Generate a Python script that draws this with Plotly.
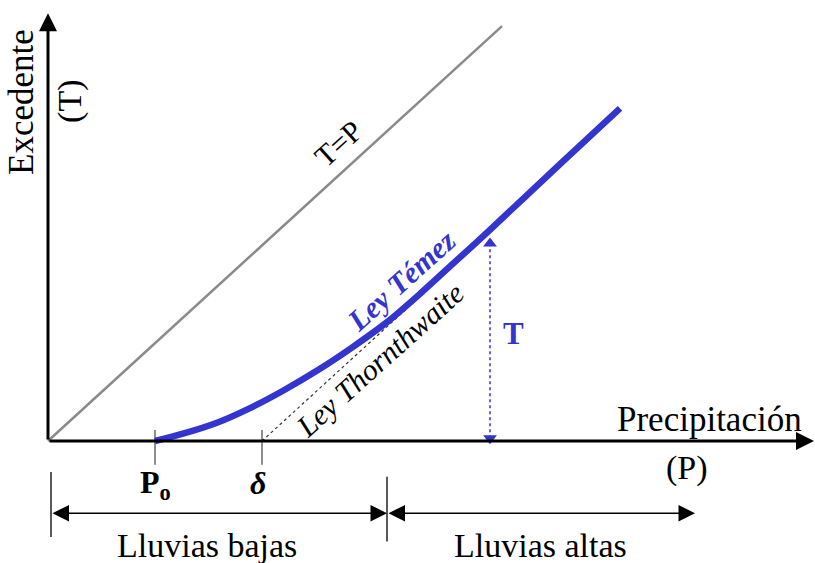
import plotly.graph_objects as go

# characteristic points (P units)
P0 = 10.7
DELTA = 21.4

# T = P line
tp_line_P = [0.0, 45.4]
tp_line_T = [0.0, 45.4]

# Témez law
temez_P = [10.7, 13.5, 16.9, 20.2, 23.5, 27.2, 30.5, 33.9, 37.2, 40.5, 43.9, 51.2, 57.2]
temez_T = [0.0, 0.8, 2.0, 3.6, 5.5, 7.9, 10.3, 13.0, 16.1, 19.4, 22.8, 30.3, 36.4]

# Thornthwaite law (runs under the Témez curve)
thorn_P = [21.4, 37.0]
thorn_T = [0.0, 15.6]

# T arrow
t_arrow_P = [44.2, 44.2]
t_arrow_T = [0.3, 21.6]

# axes extents
X_END = 76.6
Y_END = 46.8

# ranges of rain
rain_split = 33.9
rain_end = 64.7
rain_start = 0.3

BLUE = "#3434cf"
FONT = "Liberation Serif"


def _line(x, y, color, width, dash="solid"):
    return go.Scatter(
        x=x, y=y, mode="lines", hoverinfo="skip",
        line=dict(color=color, width=width, dash=dash),
    )


def _arrow(x, y, ax, ay, width=3, head=2, size=1.0, side="end"):
    return dict(
        x=x, y=y, ax=ax, ay=ay, xref="x", yref="y", axref="x", ayref="y",
        text="", showarrow=True, arrowhead=head, startarrowhead=head,
        arrowsize=size, startarrowsize=size, arrowwidth=width,
        arrowcolor="black", arrowside=side, font=dict(size=10),
    )


def _text(x, y, text, size=32, color="black", angle=0):
    return dict(
        x=x, y=y, xref="x", yref="y", text=text, showarrow=False,
        textangle=angle, font=dict(family=FONT, size=size, color=color),
    )


fig = go.Figure()
fig.add_trace(_line(tp_line_P, tp_line_T, "#8a8a8a", 2.5))
fig.add_trace(_line(thorn_P, thorn_T, "#333333", 1.2, "dot"))
fig.add_trace(_line([P0, P0], [1.2, -2.6], "#444444", 1.2))
fig.add_trace(_line([DELTA, DELTA], [1.2, -2.6], "#444444", 1.2))
fig.add_trace(_line([rain_start, rain_start], [-3.4, -10.5], "#222222", 1.5))
fig.add_trace(_line([rain_split, rain_split], [-3.9, -11.0], "#222222", 1.5))
fig.add_trace(
    go.Scatter(
        x=temez_P, y=temez_T, mode="lines", hoverinfo="skip",
        line=dict(color=BLUE, width=6.5, shape="spline", smoothing=0.8),
    )
)
fig.add_trace(
    go.Scatter(
        x=t_arrow_P, y=t_arrow_T, mode="lines+markers", hoverinfo="skip",
        line=dict(color=BLUE, width=1.5, dash="dot"),
        marker=dict(symbol=["triangle-down", "triangle-up"], size=12, color=BLUE),
    )
)

annotations = [
    _arrow(0, Y_END, 0, 0, width=3, head=2, size=1.2),
    _arrow(X_END, 0, 0, 0, width=3, head=2, size=1.2),
    _arrow(rain_split, -7.9, rain_start, -7.9, width=1.5, head=2, size=2.2, side="end+start"),
    _arrow(rain_end, -7.9, rain_split, -7.9, width=1.5, head=2, size=2.2, side="end+start"),
    _text(-2.6, 37.1, "Excedente", 35, angle=-90),
    _text(2.2, 37.1, "(T)", 34, angle=-90),
    _text(66.1, 2.4, "Precipitación", 35),
    _text(63.9, -3.0, "(P)", 34),
    _text(10.7, -4.8, "<b>P<sub>o</sub></b>", 32),
    _text(21.0, -4.6, "<b><i>δ</i></b>", 32),
    _text(29.0, 32.6, "T=P", 30, angle=-42),
    _text(35.3, 17.6, "<b><i>Ley Témez</i></b>", 30, BLUE, angle=-42),
    _text(33.2, 8.9, "<i>Ley Thornthwaite</i>", 30, angle=-42),
    _text(46.5, 11.8, "<b>T</b>", 31, BLUE),
    _text(15.9, -11.4, "Lluvias bajas", 34),
    _text(49.2, -11.4, "Lluvias altas", 34),
]

fig.update_layout(
    width=815,
    height=563,
    margin=dict(l=0, r=0, t=0, b=0),
    paper_bgcolor="white",
    plot_bgcolor="white",
    showlegend=False,
    annotations=annotations,
    xaxis=dict(range=[-4.8, 76.7], visible=False, fixedrange=True),
    yaxis=dict(range=[-13.35, 48.25], visible=False, fixedrange=True),
)

fig.write_html(
    "out.html",
    config={"displayModeBar": False},
    post_script="document.body.style.margin='0';",
)
